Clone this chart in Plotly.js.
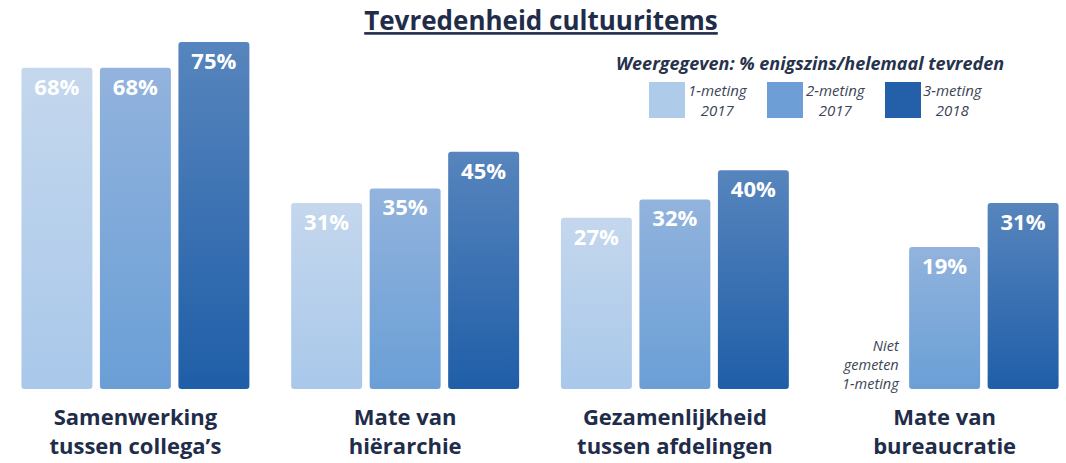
<!DOCTYPE html>
<html>
<head>
<meta charset="utf-8">
<script src="https://cdn.plot.ly/plotly-3.0.1.min.js"></script>
<style>
  html, body { margin: 0; padding: 0; background: #ffffff; }
  #chart { width: 1066px; height: 463px; }
</style>
</head>
<body>
<div id="chart"></div>
<script>
// ---- data ----
const chartTitle = "Tevredenheid cultuuritems";
const legendTitle = "Weergegeven: % enigszins/helemaal tevreden";
const categories = [
  "Samenwerking<br>tussen collega’s",
  "Mate van<br>hiërarchie",
  "Gezamenlijkheid<br>tussen afdelingen",
  "Mate van<br>bureaucratie"
];
const seriesNames = ["1-meting<br>2017", "2-meting<br>2017", "3-meting<br>2018"];
const meting1 = [68, 31, 27, null];
const meting2 = [68, 35, 32, 19];
const meting3 = [75, 45, 40, 31];
const missingNote = "Niet<br>gemeten<br>1-meting";

// ---- styling ----
const seriesValues = [meting1, meting2, meting3];
const swatchColors = ["#aecbea", "#6d9fd6", "#2460aa"];
const gradTop = ["#c4d7ed", "#92b3dd", "#5785bd"];
const gradBottom = ["#a9c8ea", "#6a9fd6", "#1f5ea8"];
const OFF = 19.8;           // visual baseline offset of the original chart
const W = 1066, H = 463;
const M = {l: 0, r: 0, t: 30, b: 74};
const plotH = H - M.t - M.b;
const yTop = -OFF + plotH / 3.66;
const navy = "#1f2d4a";
const grey = "#3b4556";

function px(x) { return x / W; }
function py(y) { return (H - M.b - y) / plotH; }

const traces = seriesValues.map((vals, i) => ({
  type: "bar",
  name: seriesNames[i].replace("<br>", " "),
  x: categories,
  y: vals.map(v => v === null ? null : v + OFF),
  base: vals.map(() => -OFF),
  text: vals.map(v => v === null ? "" : v + "%"),
  textposition: "inside",
  insidetextanchor: "end",
  constraintext: "none",
  textangle: 0,
  textfont: {family: "Open Sans", size: 22, color: "#ffffff", weight: 700},
  marker: {color: swatchColors[i], cornerradius: 3, line: {width: 0}},
  hoverinfo: "skip",
  showlegend: false
}));

const shapes = [];
const annotations = [];
const swX = [649, 767, 885];
const txtX = [718, 836, 953];
swX.forEach((x0, i) => {
  shapes.push({
    type: "rect", xref: "paper", yref: "paper",
    x0: px(x0), x1: px(x0 + 36), y0: py(118), y1: py(82),
    fillcolor: swatchColors[i], line: {width: 0}, layer: "above"
  });
  annotations.push({
    xref: "paper", yref: "paper", x: px(txtX[i]), y: py(100),
    xanchor: "center", yanchor: "middle", showarrow: false,
    text: "<i>" + seriesNames[i] + "</i>", align: "center",
    font: {family: "Open Sans", size: 15, color: grey}
  });
});
annotations.push({
  xref: "paper", yref: "paper", x: px(810), y: py(63),
  xanchor: "center", yanchor: "middle", showarrow: false,
  text: "<b><i>" + legendTitle + "</i></b>",
  font: {family: "Open Sans", size: 18, color: "#27324c"}
});
annotations.push({
  xref: "paper", yref: "paper", x: px(902), y: py(364),
  xanchor: "right", yanchor: "middle", showarrow: false,
  text: "<i>" + missingNote + "</i>", align: "right",
  font: {family: "Open Sans", size: 14.5, color: grey}
});

const layout = {
  width: W, height: H,
  margin: M,
  paper_bgcolor: "#ffffff",
  plot_bgcolor: "#ffffff",
  title: {
    text: "<b><u>" + chartTitle + "</u></b>",
    x: 541 / W, xanchor: "center",
    y: 1 - 21 / H, yanchor: "middle",
    font: {family: "Open Sans", size: 26, color: navy}
  },
  barmode: "group",
  bargap: 0.127,
  bargroupgap: 0.096,
  xaxis: {
    type: "category",
    range: [-0.502, 3.45],
    showgrid: false, zeroline: false, showline: false,
    ticks: "",
    ticklabelstandoff: 13,
    tickfont: {family: "Open Sans", size: 22, color: navy, weight: 700},
    fixedrange: true
  },
  yaxis: {
    range: [-OFF, yTop],
    visible: false,
    showgrid: false, zeroline: false,
    fixedrange: true
  },
  shapes: shapes,
  annotations: annotations,
  showlegend: false
};

Plotly.newPlot("chart", traces, layout, {displayModeBar: false, staticPlot: true}).then(gd => {
  const NS = "http://www.w3.org/2000/svg";
  const svg = gd.querySelector(".main-svg");
  let defs = svg.querySelector("defs");
  if (!defs) { defs = document.createElementNS(NS, "defs"); svg.insertBefore(defs, svg.firstChild); }
  gradTop.forEach((c, i) => {
    const g = document.createElementNS(NS, "linearGradient");
    g.setAttribute("id", "barGrad" + i);
    g.setAttribute("x1", "0"); g.setAttribute("y1", "0");
    g.setAttribute("x2", "0"); g.setAttribute("y2", "1");
    [[0, c], [1, gradBottom[i]]].forEach(([o, col]) => {
      const s = document.createElementNS(NS, "stop");
      s.setAttribute("offset", String(o));
      s.setAttribute("stop-color", col);
      g.appendChild(s);
    });
    defs.appendChild(g);
  });
  gd.querySelectorAll(".barlayer .trace").forEach((tr, i) => {
    tr.querySelectorAll(".point path").forEach(p => { p.style.fill = "url(#barGrad" + i + ")"; });
  });
});
</script>
</body>
</html>
